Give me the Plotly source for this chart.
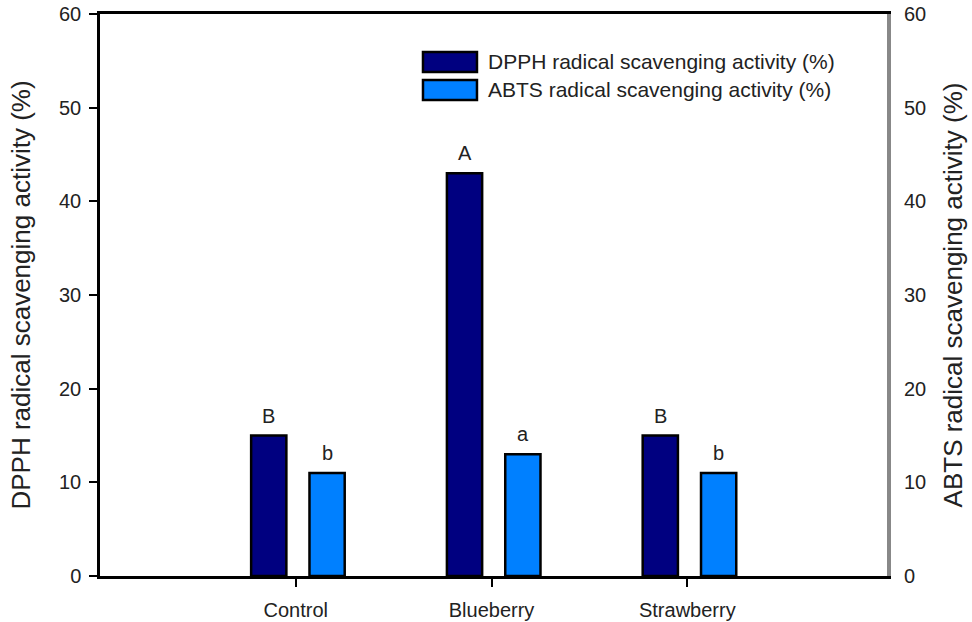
import plotly.graph_objects as go

# Antioxidant activity by treatment
categories = ["Control", "Blueberry", "Strawberry"]
dpph_values = [15, 43, 15]
abts_values = [11, 13, 11]
dpph_letters = ["B", "A", "B"]
abts_letters = ["b", "a", "b"]
series_names = ["DPPH radical scavenging activity (%)", "ABTS radical scavenging activity (%)"]
y_ticks = [0, 10, 20, 30, 40, 50, 60]

FONT = "Liberation Sans, Arial, sans-serif"
DPPH_COLOR = "#000080"
ABTS_COLOR = "#0080ff"
TEXT_COLOR = "#222222"

x_idx = list(range(len(categories)))
bar_w = 0.18
dpph_off = -0.228
abts_off = 0.07

fig = go.Figure()
fig.add_trace(go.Bar(
    x=x_idx, y=dpph_values, name=series_names[0],
    width=bar_w, offset=dpph_off,
    marker=dict(color=DPPH_COLOR, line=dict(color="#000000", width=2.5)),
    yaxis="y", showlegend=False,
))
fig.add_trace(go.Bar(
    x=x_idx, y=abts_values, name=series_names[1],
    width=bar_w, offset=abts_off,
    marker=dict(color=ABTS_COLOR, line=dict(color="#000000", width=2.5)),
    yaxis="y2", showlegend=False,
))

# significance letters above each bar
annotations = []
for i in x_idx:
    annotations.append(dict(
        x=i + dpph_off + bar_w / 2, y=dpph_values[i], xref="x", yref="y",
        text=dpph_letters[i], showarrow=False, yanchor="bottom", yshift=7,
        font=dict(family=FONT, size=20, color=TEXT_COLOR),
    ))
    annotations.append(dict(
        x=i + abts_off + bar_w / 2, y=abts_values[i], xref="x", yref="y2",
        text=abts_letters[i], showarrow=False, yanchor="bottom", yshift=7,
        font=dict(family=FONT, size=20, color=TEXT_COLOR),
    ))

# boxed legend entries
shapes = []
legend_rows = [(0.9324, 0.8968, DPPH_COLOR), (0.8826, 0.8470, ABTS_COLOR)]
for name, (y0, y1, col) in zip(series_names, legend_rows):
    shapes.append(dict(
        type="rect", xref="paper", yref="paper",
        x0=0.4104, x1=0.479, y0=y1, y1=y0,
        fillcolor=col, line=dict(color="#000000", width=2.5),
    ))
    annotations.append(dict(
        x=0.4905, y=(y0 + y1) / 2, xref="paper", yref="paper",
        text=name, showarrow=False, xanchor="left", yanchor="middle",
        font=dict(family=FONT, size=21, color=TEXT_COLOR),
    ))

fig.update_layout(
    width=972, height=622,
    margin=dict(l=100, r=85, t=14, b=46),
    paper_bgcolor="white", plot_bgcolor="white",
    font=dict(family=FONT, size=20, color=TEXT_COLOR),
    showlegend=False,
    xaxis=dict(
        range=[-1.0, 3.02], automargin=False,
        tickmode="array", tickvals=x_idx, ticktext=categories,
        ticks="outside", ticklen=8, tickwidth=2, tickcolor="#000000",
        showline=True, linecolor="#000000", linewidth=2.5, mirror=True,
        showgrid=False, zeroline=False,
        tickfont=dict(family=FONT, size=20, color=TEXT_COLOR),
        ticklabelstandoff=6,
    ),
    yaxis=dict(
        range=[0, 60], tickvals=y_ticks, automargin=False,
        ticks="outside", ticklen=8, tickwidth=2, tickcolor="#000000",
        showline=True, linecolor="#000000", linewidth=2.5,
        showgrid=False, zeroline=False,
        tickfont=dict(family=FONT, size=20, color=TEXT_COLOR),
        ticklabelstandoff=4,
        title=dict(text=series_names[0], font=dict(family=FONT, size=26, color=TEXT_COLOR), standoff=21),
    ),
    yaxis2=dict(
        range=[0, 60], tickvals=y_ticks, overlaying="y", side="right", automargin=False,
        ticks="", showline=True, linecolor="#888888", linewidth=4,
        showgrid=False, zeroline=False,
        tickfont=dict(family=FONT, size=20, color=TEXT_COLOR),
        ticklabelstandoff=9,
        title=dict(text=series_names[1], font=dict(family=FONT, size=26, color=TEXT_COLOR), standoff=20),
    ),
    annotations=annotations,
    shapes=shapes,
)

fig.write_html("out.html")
